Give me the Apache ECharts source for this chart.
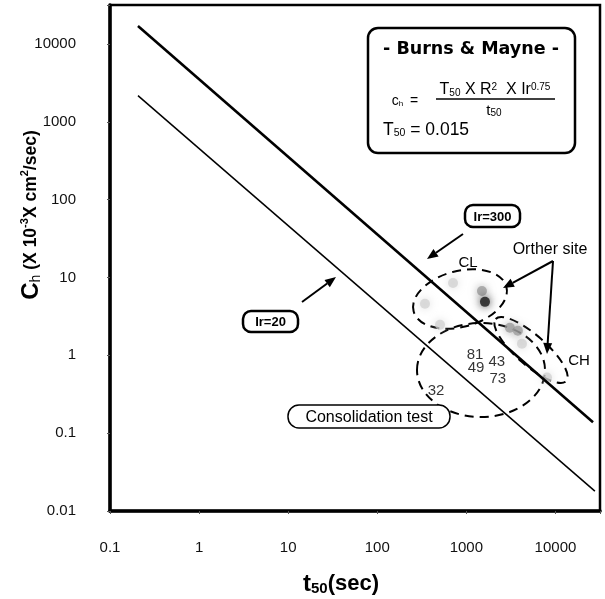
<!DOCTYPE html>
<html>
<head>
<meta charset="utf-8">
<script src="https://cdn.jsdelivr.net/npm/echarts@6/dist/echarts.min.js"></script>
<style>
  html, body { margin: 0; padding: 0; background: #fff; }
  #chart1 { width: 605px; height: 599px; }
</style>
</head>
<body>
<div id="chart1"></div>
<script>
// Burns & Mayne lines (t50 in sec, ch in 10^-3 cm2/sec)
var ir300T50 = [0.206, 26400];
var ir300Ch = [17000, 0.138];
var ir20T50 = [0.206, 27700];
var ir20Ch = [2170, 0.018];

// measured points (grey blobs)
var lightT50 = [708, 343, 506, 4210, 8040];
var lightCh = [8.5, 4.59, 2.47, 1.41, 0.52];
var midT50 = [1496, 3080, 3790];
var midCh = [6.7, 2.26, 2.07];
var darkT50 = [1617];
var darkCh = [4.86];

// consolidation test numbers
var testNames = ['81', '49', '43', '73', '32'];
var testT50 = [1250, 1285, 2200, 2250, 456];
var testCh = [1.02, 0.68, 0.83, 0.50, 0.35];

var xTicks = [0.1, 1, 10, 100, 1000, 10000];
var yTicks = [0.01, 0.1, 1, 10, 100, 1000, 10000];

function pairs(a, b) {
    var out = [];
    for (var i = 0; i < a.length; i++) out.push([a[i], b[i]]);
    return out;
}
function tickLabel(list) {
    return function (v) {
        for (var i = 0; i < list.length; i++) {
            if (Math.abs(Math.log10(v) - Math.log10(list[i])) < 1e-6) return String(list[i]);
        }
        return '';
    };
}

var FONT = '"Liberation Sans", Arial, sans-serif';
var chart1 = echarts.init(document.getElementById('chart1'));

// arrow = line + filled head
function arrow(x1, y1, x2, y2) {
    var a = Math.atan2(y2 - y1, x2 - x1), L = 11, W = 4.5;
    var bx = x2 - L * Math.cos(a), by = y2 - L * Math.sin(a);
    return [{
        type: 'line', shape: {x1: x1, y1: y1, x2: bx, y2: by},
        style: {stroke: '#000', lineWidth: 2}
    }, {
        type: 'polygon',
        shape: {points: [[x2, y2], [bx - W * Math.sin(a), by + W * Math.cos(a)], [bx + W * Math.sin(a), by - W * Math.cos(a)]]},
        style: {fill: '#000'}
    }];
}
function dashedEllipse(cx, cy, rx, ry, rot) {
    return {
        type: 'ellipse', x: cx, y: cy, rotation: rot,
        shape: {cx: 0, cy: 0, rx: rx, ry: ry},
        style: {fill: null, stroke: '#000', lineWidth: 2, lineDash: [9, 6]}
    };
}
function boxLabel(x, y, w, h, r, lw, text, font) {
    return [{
        type: 'rect', shape: {x: x, y: y, width: w, height: h, r: r},
        style: {fill: '#fff', stroke: '#000', lineWidth: lw}
    }, {
        type: 'text', x: x + w / 2, y: y + h / 2 + 1,
        style: {text: text, font: font, fill: '#000', align: 'center', verticalAlign: 'middle'}
    }];
}
function txt(x, y, text, size, extra) {
    var o = {
        type: 'text', x: x, y: y,
        style: {text: text, fontFamily: FONT, fontSize: size, fill: '#000', align: 'center', verticalAlign: 'middle'}
    };
    if (extra) for (var k in extra) o.style[k] = extra[k];
    return o;
}

var graphics = [];
graphics.push(dashedEllipse(460, 299, 48, 28, 0.26));
graphics.push(dashedEllipse(531, 350, 47, 15, -0.72));
graphics.push(dashedEllipse(481, 370, 64, 47, 0));
graphics = graphics.concat(arrow(463, 234, 427, 259));
graphics = graphics.concat(arrow(302, 302, 336, 277));
graphics = graphics.concat(arrow(553, 261, 503, 288));
graphics = graphics.concat(arrow(553, 261, 547, 354));
graphics = graphics.concat(boxLabel(465, 205, 55, 22, 8, 2.5, 'Ir=300', 'bold 13px ' + FONT));
graphics = graphics.concat(boxLabel(243, 311, 55, 21, 8, 2.5, 'Ir=20', 'bold 13px ' + FONT));
graphics = graphics.concat(boxLabel(288, 405, 162, 23, 11, 1.5, 'Consolidation test', '16px ' + FONT));
graphics.push(txt(550, 250, 'Orther site', 16));
graphics.push(txt(468, 263, 'CL', 15));
graphics.push(txt(579, 361, 'CH', 15));

// Burns & Mayne box
graphics.push({
    type: 'rect', shape: {x: 368, y: 28, width: 207, height: 125, r: 10},
    style: {fill: '#fff', stroke: '#000', lineWidth: 2.5}
});
graphics.push(txt(471, 49, '- Burns & Mayne -', 17.5, {fontWeight: 'bold', fontFamily: '"DejaVu Sans", sans-serif'}));
graphics.push({
    type: 'text', x: 405, y: 101,
    style: {
        text: '{a|c}{s|h}  {a|=}', fill: '#000', align: 'center', verticalAlign: 'middle',
        rich: {
            a: {fontFamily: FONT, fontSize: 14},
            s: {fontFamily: FONT, fontSize: 8, verticalAlign: 'bottom'}
        }
    }
});
graphics.push({
    type: 'text', x: 495, y: 90,
    style: {
        text: '{a|T}{s|50}{a| X R}{p|2}{a|  X Ir}{p|0.75}', fill: '#000', align: 'center', verticalAlign: 'middle',
        rich: {
            a: {fontFamily: FONT, fontSize: 16},
            s: {fontFamily: FONT, fontSize: 10, verticalAlign: 'bottom'},
            p: {fontFamily: FONT, fontSize: 10, verticalAlign: 'top'}
        }
    }
});
graphics.push({
    type: 'line', shape: {x1: 436, y1: 99, x2: 555, y2: 99},
    style: {stroke: '#000', lineWidth: 1.5}
});
graphics.push({
    type: 'text', x: 494, y: 111,
    style: {
        text: '{a|t}{s|50}', fill: '#000', align: 'center', verticalAlign: 'middle',
        rich: {
            a: {fontFamily: FONT, fontSize: 15},
            s: {fontFamily: FONT, fontSize: 10, verticalAlign: 'bottom'}
        }
    }
});
graphics.push({
    type: 'text', x: 383, y: 130,
    style: {
        text: '{a|T}{s|50}{a| = 0.015}', fill: '#000', align: 'left', verticalAlign: 'middle',
        rich: {
            a: {fontFamily: FONT, fontSize: 17.5},
            s: {fontFamily: FONT, fontSize: 10.5, verticalAlign: 'bottom'}
        }
    }
});

// axis titles
graphics.push({
    type: 'text', x: 341, y: 584,
    style: {
        text: '{a|t}{s|50}{b|(sec)}', fill: '#000', align: 'center', verticalAlign: 'middle',
        rich: {
            a: {fontFamily: FONT, fontWeight: 'bold', fontSize: 24},
            s: {fontFamily: FONT, fontWeight: 'bold', fontSize: 15, verticalAlign: 'bottom'},
            b: {fontFamily: FONT, fontWeight: 'bold', fontSize: 22}
        }
    }
});
graphics.push({
    type: 'text', x: 31, y: 215, rotation: Math.PI / 2,
    style: {
        text: '{c|C}{s|h}{b| (X 10}{p|-3}{b|X cm}{p|2}{b|/sec)}', fill: '#000', align: 'center', verticalAlign: 'middle',
        rich: {
            c: {fontFamily: FONT, fontWeight: 'bold', fontSize: 24},
            s: {fontFamily: FONT, fontSize: 14, verticalAlign: 'bottom'},
            b: {fontFamily: FONT, fontWeight: 'bold', fontSize: 17.5},
            p: {fontFamily: FONT, fontWeight: 'bold', fontSize: 11, verticalAlign: 'top'}
        }
    }
});

function blob(color, size, op) {
    return {
        symbol: 'circle', symbolSize: size,
        itemStyle: {color: color, shadowBlur: 8, shadowColor: color, opacity: op}
    };
}

var option = {
    animation: false,
    backgroundColor: '#fff',
    grid: {
        left: 110, right: 5, top: 5, bottom: 88,
        show: true, borderColor: '#000', borderWidth: 2.5
    },
    xAxis: {
        type: 'log', logBase: 10, min: 0.1, max: 31623,
        axisLine: {show: true, lineStyle: {color: '#000', width: 3.5}},
        axisTick: {show: true, length: 3, lineStyle: {color: '#555'}},
        splitLine: {show: false},
        axisLabel: {
            margin: 29, fontFamily: FONT, fontSize: 15, color: '#111',
            formatter: tickLabel(xTicks)
        }
    },
    yAxis: {
        type: 'log', logBase: 10, min: 0.01, max: 31623,
        axisLine: {show: true, lineStyle: {color: '#000', width: 3.5}},
        axisTick: {show: true, length: 3, lineStyle: {color: '#555'}},
        splitLine: {show: false},
        axisLabel: {
            margin: 34, fontFamily: FONT, fontSize: 15, color: '#111',
            formatter: tickLabel(yTicks)
        }
    },
    series: [{
        name: 'Ir=300', type: 'line', data: pairs(ir300T50, ir300Ch),
        symbol: 'none', lineStyle: {color: '#000', width: 2.6}, z: 3
    }, {
        name: 'Ir=20', type: 'line', data: pairs(ir20T50, ir20Ch),
        symbol: 'none', lineStyle: {color: '#000', width: 1.5}, z: 3
    }, Object.assign({
        name: 'light', type: 'scatter', data: pairs(lightT50, lightCh)
    }, blob('#cfcfcf', 10, 0.7)), Object.assign({
        name: 'mid', type: 'scatter', data: pairs(midT50, midCh)
    }, blob('#9a9a9a', 10, 0.75)), Object.assign({
        name: 'dark', type: 'scatter', data: pairs(darkT50, darkCh)
    }, blob('#2a2a2a', 10, 0.9)), {
        name: 'tests', type: 'scatter', symbolSize: 0,
        data: testT50.map(function (t, i) { return {name: testNames[i], value: [t, testCh[i]]}; }),
        label: {
            show: true, position: 'inside', formatter: '{b}',
            fontFamily: FONT, fontSize: 15, color: '#000'
        }
    }],
    graphic: graphics
};
chart1.setOption(option);
</script>
</body>
</html>
